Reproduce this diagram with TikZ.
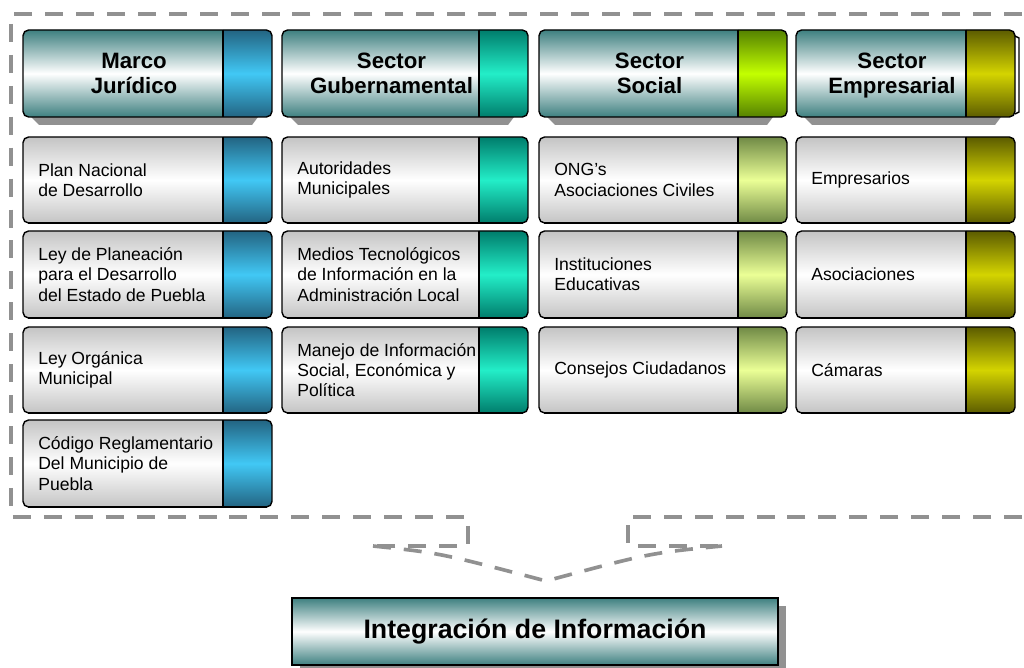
\documentclass[tikz,border=0pt]{standalone}
\usepackage{fontspec}
\setmainfont{Liberation Sans}

\definecolor{trazo}{RGB}{145,145,145}
\definecolor{verdeazul}{RGB}{62,128,128}
\definecolor{grisclaro}{RGB}{196,196,196}

\tikzset{
  cuerpo cabeza/.style={top color=verdeazul, bottom color=verdeazul, middle color=white},
  cuerpo fila/.style={top color=grisclaro, bottom color=grisclaro, middle color=white},
  banda azul/.style={top color={rgb,255:red,35;green,100;blue,130}, bottom color={rgb,255:red,35;green,100;blue,130}, middle color={rgb,255:red,65;green,200;blue,245}},
  banda turquesa/.style={top color={rgb,255:red,0;green,125;blue,108}, bottom color={rgb,255:red,0;green,125;blue,108}, middle color={rgb,255:red,35;green,238;blue,200}},
  banda lima/.style={top color={rgb,255:red,85;green,130;blue,0}, bottom color={rgb,255:red,85;green,130;blue,0}, middle color={rgb,255:red,195;green,255;blue,0}},
  banda olivo claro/.style={top color={rgb,255:red,112;green,138;blue,70}, bottom color={rgb,255:red,112;green,138;blue,70}, middle color={rgb,255:red,235;green,255;blue,150}},
  banda olivo/.style={top color={rgb,255:red,92;green,92;blue,0}, bottom color={rgb,255:red,92;green,92;blue,0}, middle color={rgb,255:red,212;green,212;blue,0}},
  titulo/.style={font=\bfseries\fontsize{15.8}{18}\selectfont, align=center, inner sep=0pt,
    execute at end node=\vphantom{p}},
  texto/.style={font=\fontsize{12.5}{14.4}\selectfont, align=left, anchor=west, inner sep=0pt},
  marco/.style={draw=trazo, line width=3.2pt, dash pattern=on 12.8pt off 9.2pt},
  integra/.style={draw, line width=1pt, cuerpo cabeza, minimum width=12.15cm, minimum height=1.675cm,
    font=\bfseries\fontsize{19}{22}\selectfont},
}

% cilindro: x1, y1, x2, y2, cuerpo, banda
\newcommand{\cilindro}[6]{%
  \begin{scope}
    \clip[rounded corners=4pt] (#1,#2) rectangle (#3,#4);
    \shade[#5] (#1,#2) rectangle (#3,#4);
    \shade[#6] (#3-49,#2) rectangle (#3,#4);
  \end{scope}
  \draw[line width=1pt, rounded corners=4pt] (#1,#2) rectangle (#3,#4);
  \draw[line width=0.8pt] (#3-49,#2) -- (#3-49,#4);
}
% cabecera: nombre, x1, x2, banda, texto
\newcommand{\cabecera}[5]{%
  \fill[trazo] (#2+8,117) -- (#3-14,117) -- (#3-20,125) -- (#2+16,125) -- cycle;
  \cilindro{#2}{30}{#3}{117}{cuerpo cabeza}{#4}
  \node[titulo] (#1) at ({(#2+#3-49)/2+11},75.5) {#5};
}
% fila: nombre, x1, y1, x2, y2, banda, texto
\newcommand{\fila}[7]{%
  \cilindro{#2}{#3}{#4}{#5}{cuerpo fila}{#6}
  \draw[line width=1.8pt] (#2+5,#5) -- (#4-5,#5);
  \node[texto] (#1) at (#2+15,{(#3+#5)/2}) {#7};
}

\begin{document}
\begin{tikzpicture}[x=0.025cm, y=-0.025cm]
  \useasboundingbox (0,0) rectangle (1024,668);
  % marco punteado y embudo
  \draw[marco] (1022,14) -- (11,14) -- (11,517) -- (468,517) -- (468,546) -- (373,546);
  \draw[marco] (1022,517) -- (628,517) -- (628,546) -- (722,546);
  \draw[marco, line width=2.6pt] (373,546) .. controls (440,553) .. (546,581)
    .. controls (650,553) .. (722,546);

  % cabeceras
  \cabecera{juridico}{23}{272}{banda azul}{Marco\\Jurídico}
  \cabecera{gubernamental}{282}{528}{banda turquesa}{Sector\\Gubernamental}
  \cabecera{social}{539}{787}{banda lima}{Sector\\Social}
  \cabecera{empresarial}{796}{1015}{banda olivo}{Sector\\Empresarial}
  \draw[line width=1pt] (1015,36) -- (1019,38) -- (1019,112) -- (1015,114);

  % marco juridico
  \fila{plan}{23}{137}{272}{223}{banda azul}{Plan Nacional\\de Desarrollo}
  \fila{planeacion}{23}{231}{272}{318}{banda azul}{Ley de Planeación\\para el Desarrollo\\del Estado de Puebla}
  \fila{organica}{23}{327}{272}{413}{banda azul}{Ley Orgánica\\Municipal}
  \fila{codigo}{23}{420}{272}{507}{banda azul}{Código Reglamentario\\Del Municipio de\\Puebla}

  % sector gubernamental
  \fila{autoridades}{282}{137}{528}{223}{banda turquesa}{Autoridades\\Municipales}
  \fila{medios}{282}{231}{528}{318}{banda turquesa}{Medios Tecnológicos\\de Información en la\\Administración Local}
  \fila{manejo}{282}{327}{528}{413}{banda turquesa}{Manejo de Información\\Social, Económica y\\Política}

  % sector social
  \fila{ong}{539}{137}{787}{223}{banda olivo claro}{ONG's\\Asociaciones Civiles}
  \fila{instituciones}{539}{231}{787}{318}{banda olivo claro}{Instituciones\\Educativas}
  \fila{consejos}{539}{327}{787}{413}{banda olivo claro}{Consejos Ciudadanos}

  % sector empresarial
  \fila{empresarios}{796}{137}{1015}{223}{banda olivo}{Empresarios}
  \fila{asociaciones}{796}{231}{1015}{318}{banda olivo}{Asociaciones}
  \fila{camaras}{796}{327}{1015}{413}{banda olivo}{Cámaras}

  % integracion
  \fill[trazo] (300,606) rectangle (786,668);
  \node[integra] (integracion) at (535,631.5) {Integración de Información};
\end{tikzpicture}
\end{document}
